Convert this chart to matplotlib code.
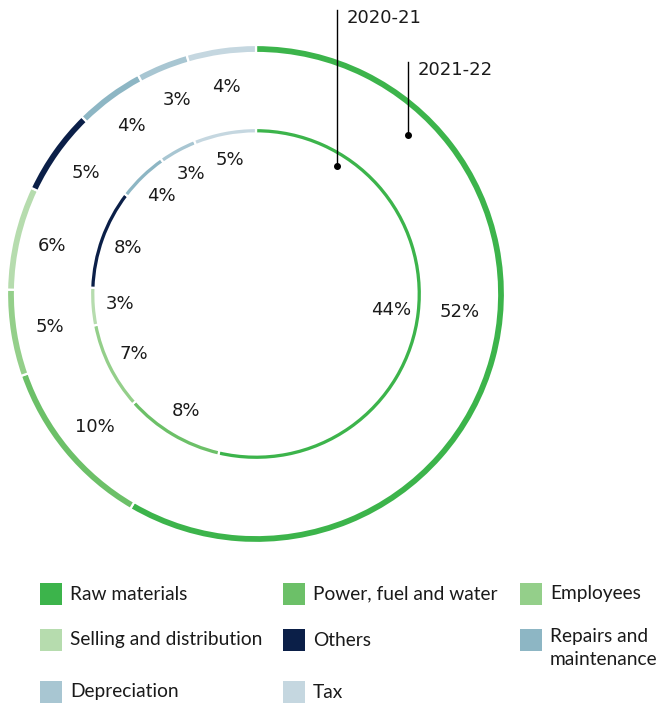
import matplotlib.pyplot as plt
from matplotlib.patches import Rectangle

# cost breakdown, share of total (%)
categories = ['Raw materials', 'Power, fuel and water', 'Employees',
              'Selling and distribution', 'Others', 'Repairs and\nmaintenance',
              'Depreciation', 'Tax']
values_2122 = [52, 10, 5, 6, 5, 4, 3, 4]   # outer ring
values_2021 = [44, 8, 7, 3, 8, 4, 3, 5]    # inner ring
colors = ['#3cb44b', '#6cc068', '#94cf8a', '#b6dcae',
          '#0b1f48', '#8db6c4', '#a8c6d2', '#c5d7e0']

W, H = 662, 704
fig = plt.figure(figsize=(W / 100, H / 100), dpi=100)
ax = fig.add_axes([0, 0, 1, 1])

center = (256, H - 294)
txt_col = '#1a1a1a'


def ring(vals, radius, width, pctdist):
    wedges, _, autotexts = ax.pie(
        vals, radius=radius, center=center, startangle=90, counterclock=False,
        colors=colors, autopct='%1.0f', pctdistance=pctdist,
        wedgeprops=dict(width=width, edgecolor='white', linewidth=1.6))
    for t, v in zip(autotexts, vals):
        t.set_text(f'{v}%')
        t.set_fontsize(13)
        t.set_color(txt_col)
        t.set_fontfamily('DejaVu Sans')
    return autotexts


outer_txt = ring(values_2122, 249, 8, 0.84)
inner_txt = ring(values_2021, 166, 5.5, 0.82)
# the big slice label sits near the horizontal
x0, _ = outer_txt[0].get_position()
outer_txt[0].set_position((x0 + 2, center[1] - 18))

ax.set_xlim(0, W)
ax.set_ylim(0, H)
ax.set_aspect('equal')
ax.axis('off')

# year pointers
ax.plot([337, 337], [H - 10, H - 166], color='black', lw=1)
ax.plot(337, H - 166, 'o', color='black', ms=4)
ax.text(347, H - 18, '2020-21', fontsize=13, color=txt_col, va='center', ha='left')
ax.plot([408, 408], [H - 62, H - 135], color='black', lw=1)
ax.plot(408, H - 135, 'o', color='black', ms=4)
ax.text(418, H - 70, '2021-22', fontsize=13, color=txt_col, va='center', ha='left')

# legend, 3 columns
col_x = [40, 283, 520]
row_y = [594, 640, 692]
for i, (lab, c) in enumerate(zip(categories, colors)):
    x = col_x[i % 3]
    y = H - row_y[i // 3]
    ax.add_patch(Rectangle((x, y - 11), 22, 22, color=c, lw=0))
    if '\n' in lab:
        ax.text(x + 30, y + 12, lab, fontsize=13.8, family='Lato', color=txt_col,
                va='top', ha='left', linespacing=1.45)
    else:
        ax.text(x + 30, y, lab, fontsize=13.8, family='Lato', color=txt_col,
                va='center', ha='left')

fig.savefig('out.png', dpi=100)
